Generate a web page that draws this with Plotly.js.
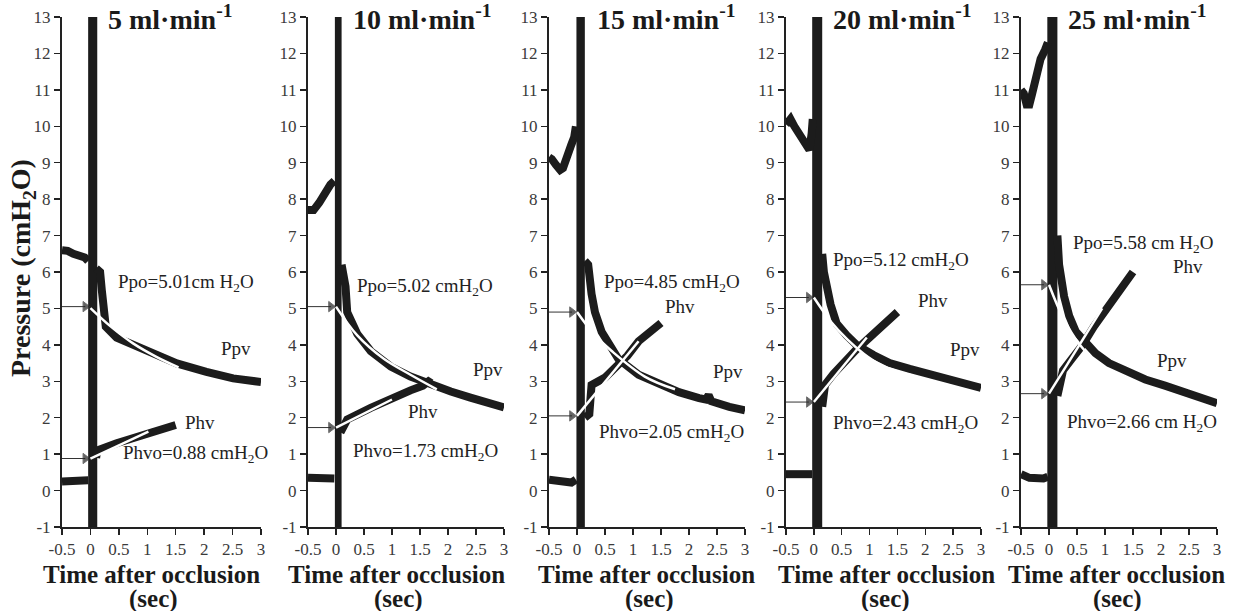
<!DOCTYPE html>
<html>
<head>
<meta charset="utf-8">
<script src="https://cdn.plot.ly/plotly-3.0.1.min.js"></script>
<style>html,body{margin:0;padding:0;background:#fff;}#chart{width:1235px;height:611px;}</style>
</head>
<body>
<div id="chart"></div>
<script>
// ---------- DATA ----------
const flowRates = ['5', '10', '15', '20', '25'];
const xTickVals = [-0.5, 0, 0.5, 1, 1.5, 2, 2.5, 3];
const xTickText = ['-0.5', '0', '0.5', '1', '1.5', '2', '2.5', '3'];
const yTickVals = [-1, 0, 1, 2, 3, 4, 5, 6, 7, 8, 9, 10, 11, 12, 13];
const yTickText = ['-1', '0', '1', '2', '3', '4', '5', '6', '7', '8', '9', '10', '11', '12', '13'];

// occlusion artefact (time window of the off-scale spike, sec)
const spikeWindow = [[-0.04, 0.12], [-0.02, 0.10], [-0.01, 0.14], [-0.03, 0.15], [-0.03, 0.15]];

// Ppv before occlusion [t, P]
const ppvBefore5  = [[-0.5,6.6],[-0.4,6.58],[-0.3,6.5],[-0.2,6.45],[-0.1,6.4],[-0.04,6.3]];
const ppvBefore10 = [[-0.5,7.7],[-0.4,7.7],[-0.3,7.9],[-0.2,8.2],[-0.1,8.4],[-0.03,8.5]];
const ppvBefore15 = [[-0.5,9.15],[-0.45,9.1],[-0.38,8.95],[-0.3,8.8],[-0.25,8.85],[-0.2,9.1],[-0.15,9.4],[-0.1,9.5],[-0.05,9.7],[-0.02,10.0]];
const ppvBefore20 = [[-0.5,10.05],[-0.42,10.2],[-0.35,10.0],[-0.28,9.85],[-0.2,9.6],[-0.12,9.45],[-0.08,9.35],[-0.04,9.8],[-0.02,10.2]];
const ppvBefore25 = [[-0.5,11.0],[-0.45,10.9],[-0.4,10.6],[-0.35,10.6],[-0.3,10.9],[-0.22,11.5],[-0.15,11.85],[-0.07,12.1],[-0.02,12.3]];

// Phv before occlusion
const phvBefore5  = [[-0.5,0.25],[-0.3,0.24],[-0.1,0.26],[-0.04,0.28]];
const phvBefore10 = [[-0.5,0.35],[-0.3,0.36],[-0.1,0.35],[-0.03,0.33]];
const phvBefore15 = [[-0.5,0.3],[-0.4,0.28],[-0.3,0.22],[-0.1,0.22],[-0.02,0.3]];
const phvBefore20 = [[-0.5,0.45],[-0.3,0.45],[-0.1,0.45],[-0.03,0.45]];
const phvBefore25 = [[-0.5,0.45],[-0.35,0.35],[-0.1,0.33],[-0.02,0.38]];

// Ppv after occlusion
const ppvAfter5  = [[0.1,6.1],[0.17,6.0],[0.2,5.5],[0.24,5.0],[0.27,4.5],[0.46,4.2],[0.99,3.86],[1.52,3.49],[2.04,3.26],[2.51,3.08],[3.0,2.98]];
const ppvAfter10 = [[0.1,6.2],[0.17,5.6],[0.2,4.9],[0.29,4.6],[0.38,4.3],[0.62,3.83],[0.98,3.4],[1.33,3.13],[1.69,2.91],[2.05,2.72],[2.4,2.55],[2.76,2.4],[3.0,2.28]];
const ppvAfter15 = [[0.14,6.3],[0.2,6.2],[0.26,5.4],[0.32,4.9],[0.44,4.36],[0.56,4.04],[0.74,3.61],[1.1,3.18],[1.46,2.91],[1.82,2.7],[2.18,2.54],[2.3,2.5],[2.35,2.62],[2.4,2.45],[2.72,2.3],[3.0,2.2]];
const ppvAfter20 = [[0.15,6.5],[0.18,6.0],[0.3,5.11],[0.41,4.58],[0.59,4.26],[0.77,3.99],[1.07,3.72],[1.36,3.5],[1.72,3.34],[2.07,3.2],[2.43,3.1],[2.72,2.97],[3.0,2.82]];
const ppvAfter25 = [[0.15,7.0],[0.18,6.2],[0.27,5.33],[0.36,4.8],[0.48,4.36],[0.65,4.04],[0.83,3.77],[1.07,3.5],[1.36,3.3],[1.72,3.05],[2.07,2.88],[2.43,2.7],[2.72,2.55],[3.0,2.4]];

// Phv after occlusion
const phvAfter5  = [[0.1,0.9],[0.12,1.1],[0.46,1.3],[0.99,1.53],[1.34,1.71],[1.5,1.8]];
const phvAfter10 = [[0.08,1.6],[0.2,1.95],[0.62,2.27],[0.98,2.54],[1.33,2.75],[1.55,2.88],[1.65,3.0],[1.7,2.95]];
const phvAfter15 = [[0.14,2.0],[0.22,2.1],[0.26,2.9],[0.5,3.1],[0.7,3.4],[0.9,3.7],[1.1,4.1],[1.3,4.35],[1.5,4.6]];
const phvAfter20 = [[0.15,2.3],[0.2,2.9],[0.35,3.2],[0.55,3.55],[0.75,3.85],[1.0,4.2],[1.25,4.55],[1.5,4.9]];
const phvAfter25 = [[0.15,2.6],[0.2,3.0],[0.25,3.3],[0.4,3.6],[0.6,4.0],[0.8,4.5],[1.0,4.95],[1.2,5.35],[1.35,5.7],[1.5,6.0]];

// fitted curves (white)
const fitPpv5  = [[0,5.01],[0.36,4.5],[0.75,4.04],[1.16,3.67],[1.55,3.38]];
const fitPpv10 = [[0,5.05],[0.38,4.26],[0.86,3.61],[1.33,3.18],[1.8,2.78]];
const fitPpv15 = [[0,4.9],[0.3,4.3],[0.62,3.83],[1.21,3.13],[1.75,2.78]];
const fitPpv20 = [[0,5.3],[0.3,4.65],[0.6,4.15],[0.9,3.75],[1.2,3.45],[1.5,3.27],[1.78,3.15]];
const fitPpv25 = [[0,5.65],[0.25,4.75],[0.55,4.0],[0.85,3.5],[1.2,3.1],[1.5,2.9],[1.8,2.75]];
const fitPhv5  = [[0,0.88],[1.02,1.62]];
const fitPhv10 = [[0,1.73],[1.0,2.5]];
const fitPhv15 = [[0,2.05],[1.1,4.1]];
const fitPhv20 = [[0,2.43],[0.95,4.2]];
const fitPhv25 = [[0,2.66],[0.95,5.0]];

// intercept markers (arrow heights) and labels
const ppoArrow  = [5.05, 5.05, 4.9, 5.3, 5.65];
const phvoArrow = [0.88, 1.73, 2.05, 2.43, 2.66];
const ppoText  = ['Ppo=5.01cm H<sub>2</sub>O', 'Ppo=5.02 cmH<sub>2</sub>O', 'Ppo=4.85 cmH<sub>2</sub>O', 'Ppo=5.12 cmH<sub>2</sub>O', 'Ppo=5.58 cm H<sub>2</sub>O'];
const phvoText = ['Phvo=0.88 cmH<sub>2</sub>O', 'Phvo=1.73 cmH<sub>2</sub>O', 'Phvo=2.05 cmH<sub>2</sub>O', 'Phvo=2.43 cmH<sub>2</sub>O', 'Phvo=2.66 cm H<sub>2</sub>O'];
// label anchor positions [t, P]
const ppoLabelPos  = [[1.68,5.70],[1.59,5.59],[1.70,5.70],[1.56,6.30],[1.68,6.78]];
const phvoLabelPos = [[1.84,1.0],[1.59,1.06],[1.68,1.58],[1.64,1.83],[1.66,1.86]];
const ppvLabelPos  = [[2.56,3.91],[2.71,3.31],[2.70,3.26],[2.71,3.86],[2.20,3.58]];
const phvLabelPos  = [[1.93,1.86],[1.55,2.18],[1.84,5.04],[2.14,5.23],[2.48,6.15]];

const ppvBefore = [ppvBefore5, ppvBefore10, ppvBefore15, ppvBefore20, ppvBefore25];
const phvBefore = [phvBefore5, phvBefore10, phvBefore15, phvBefore20, phvBefore25];
const ppvAfter  = [ppvAfter5, ppvAfter10, ppvAfter15, ppvAfter20, ppvAfter25];
const phvAfter  = [phvAfter5, phvAfter10, phvAfter15, phvAfter20, phvAfter25];
const fitPpv = [fitPpv5, fitPpv10, fitPpv15, fitPpv20, fitPpv25];
const fitPhv = [fitPhv5, fitPhv10, fitPhv15, fitPhv20, fitPhv25];

// ---------- LAYOUT GEOMETRY ----------
const W = 1235, H = 611;
const xPix = [[62,261],[308,504],[549,745],[786,981],[1021,1217]];
const yDom = [84/H, 594/H];
const titleCenters = [170, 422, 666, 902, 1137];
const xTitleCenters = [151, 396, 646, 886, 1116];
const secCenters = [153, 398, 649, 885, 1117];

const SERIF = 'Liberation Serif';
const INK = '#1c1c1c';
const xs = a => a.map(p => p[0]);
const ys = a => a.map(p => p[1]);

const traces = [];
const annotations = [];
const layout = {
  width: W, height: H,
  margin: {l:0, r:0, t:0, b:0},
  paper_bgcolor: '#fff', plot_bgcolor: '#fff',
  showlegend: false,
  font: {family: SERIF, color: '#222'}
};

const xRange = [xTickVals[0], xTickVals[xTickVals.length-1]];
const yRange = [yTickVals[0], yTickVals[yTickVals.length-1]];

for (let i = 0; i < 5; i++) {
  const sfx = i === 0 ? '' : String(i + 1);
  const xa = 'x' + sfx, ya = 'y' + sfx;
  layout['xaxis' + sfx] = {
    domain: [xPix[i][0]/W, xPix[i][1]/W], anchor: ya, range: xRange,
    tickmode: 'array', tickvals: xTickVals, ticktext: xTickText,
    ticks: 'outside', ticklen: 6, tickwidth: 1.5, tickcolor: '#222',
    showline: true, linewidth: 2, linecolor: '#222', showgrid: false, zeroline: false,
    tickfont: {family: SERIF, size: 17, color: '#3a3a3a'}, fixedrange: true
  };
  layout['yaxis' + sfx] = {
    domain: yDom, anchor: xa, range: yRange,
    tickmode: 'array', tickvals: yTickVals, ticktext: yTickText,
    ticks: 'outside', ticklen: 6, tickwidth: 1.5, tickcolor: '#222',
    showline: true, linewidth: 2, linecolor: '#222', showgrid: false, zeroline: false,
    tickfont: {family: SERIF, size: 17, color: '#3a3a3a'}, fixedrange: true
  };

  // occlusion artefact
  const sw = spikeWindow[i];
  traces.push({x: [sw[0], sw[1], sw[1], sw[0], sw[0]], y: [yRange[1], yRange[1], yRange[0], yRange[0], yRange[1]],
    xaxis: xa, yaxis: ya, mode: 'lines', fill: 'toself', fillcolor: INK, line: {width: 0, color: INK}, hoverinfo: 'skip'});

  // raw recordings
  [ppvBefore[i], phvBefore[i], ppvAfter[i], phvAfter[i]].forEach(s => {
    traces.push({x: xs(s), y: ys(s), xaxis: xa, yaxis: ya, mode: 'lines',
      line: {color: INK, width: 8}, hoverinfo: 'skip'});
  });

  // fitted curves
  traces.push({x: xs(fitPpv[i]), y: ys(fitPpv[i]), xaxis: xa, yaxis: ya, mode: 'lines',
    line: {color: '#fff', width: 2.5, shape: 'spline', smoothing: 1}, hoverinfo: 'skip'});
  traces.push({x: xs(fitPhv[i]), y: ys(fitPhv[i]), xaxis: xa, yaxis: ya, mode: 'lines',
    line: {color: '#fff', width: 2.5}, hoverinfo: 'skip'});

  // intercept arrows
  [ppoArrow[i], phvoArrow[i]].forEach(v => {
    traces.push({x: [xRange[0], -0.09], y: [v, v], xaxis: xa, yaxis: ya, mode: 'lines+markers',
      line: {color: '#333', width: 1},
      marker: {symbol: 'triangle-right', size: [0, 9], color: '#222'}, hoverinfo: 'skip'});
  });

  // panel title
  annotations.push({xref: 'paper', yref: 'paper', x: titleCenters[i]/W, y: 1 - 18/H,
    text: '<b>' + flowRates[i] + ' ml·min<sup>-1</sup></b>', showarrow: false,
    font: {family: SERIF, size: 28, color: '#1a1a1a'}, xanchor: 'center', yanchor: 'middle'});
  // x titles
  annotations.push({xref: 'paper', yref: 'paper', x: xTitleCenters[i]/W, y: 1 - 574/H,
    text: '<b>Time after occlusion</b>', showarrow: false,
    font: {family: SERIF, size: 25, color: '#1a1a1a'}, xanchor: 'center', yanchor: 'middle'});
  annotations.push({xref: 'paper', yref: 'paper', x: secCenters[i]/W, y: 1 - 599/H,
    text: '<b>(sec)</b>', showarrow: false,
    font: {family: SERIF, size: 25, color: '#1a1a1a'}, xanchor: 'center', yanchor: 'middle'});

  // labels
  const lab = (pos, txt) => annotations.push({xref: xa, yref: ya, x: pos[0], y: pos[1], text: txt,
    showarrow: false, font: {family: SERIF, size: 19, color: '#222'}, xanchor: 'center', yanchor: 'middle'});
  lab(ppoLabelPos[i], ppoText[i]);
  lab(phvoLabelPos[i], phvoText[i]);
  lab(ppvLabelPos[i], 'Ppv');
  lab(phvLabelPos[i], 'Phv');
}

// y axis title
annotations.push({xref: 'paper', yref: 'paper', x: 22/W, y: 1 - 268/H, textangle: -90,
  text: '<b>Pressure (cmH<sub>2</sub>O)</b>', showarrow: false,
  font: {family: SERIF, size: 28, color: '#1a1a1a'}, xanchor: 'center', yanchor: 'middle'});

layout.annotations = annotations;
Plotly.newPlot('chart', traces, layout, {staticPlot: true, displayModeBar: false});
</script>
</body>
</html>
